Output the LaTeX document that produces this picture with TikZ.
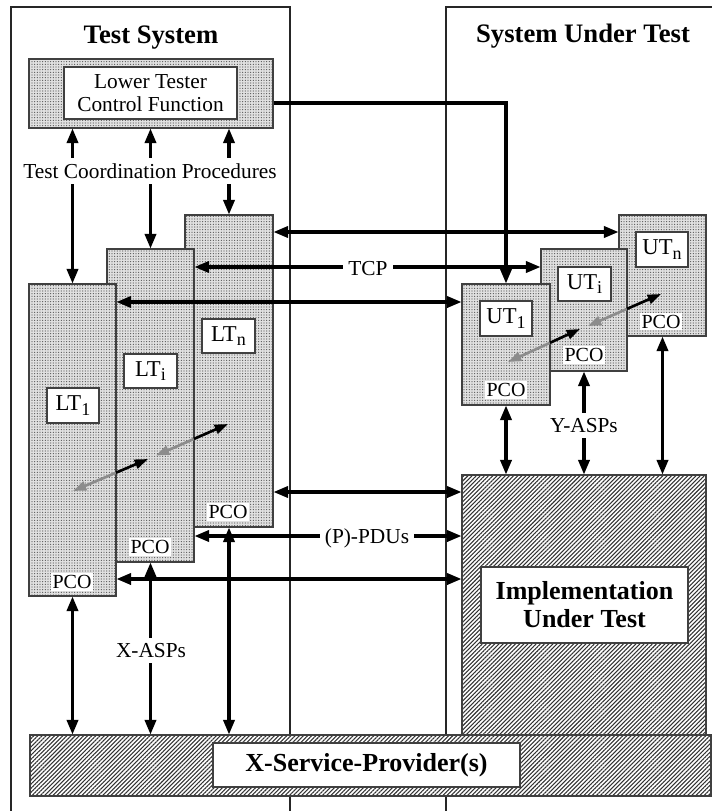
\documentclass[tikz,border=0pt]{standalone}
\usepackage{fontspec}
\setmainfont{Liberation Serif}
\usetikzlibrary{arrows.meta,patterns.meta,fit}
\newcommand\mynorm{\fontsize{16}{18}\selectfont}
\newcommand\mybold{\fontsize{19.5}{22}\selectfont\bfseries}
\newcommand\mytitle{\fontsize{20}{22}\selectfont\bfseries}
\newcommand\mylab{\fontsize{17}{20}\selectfont}
\newcommand\mypco{\fontsize{15}{17}\selectfont}
\newcommand\subtxt[2]{#1\raisebox{-3.5pt}{\fontsize{13.5}{14}\selectfont #2}}
\begin{document}
\begin{tikzpicture}[x=0.75pt,y=-0.75pt,
  frame/.style={draw=black!85,line width=0.8pt},
  dotbox/.style={draw=black!75,line width=0.8pt,inner sep=0pt,preaction={fill=black!12},
     pattern={Dots[distance=2pt,radius=0.45pt]},pattern color=black!65},
  hatchbox/.style={draw=black!75,line width=0.8pt,inner sep=0pt,preaction={fill=white},
     pattern={Lines[angle=45,distance=2.2pt,line width=0.8pt]},pattern color=black!80},
  lblbox/.style={draw=black!75,line width=0.8pt,fill=white,inner sep=0pt},
  pco/.style={fill=white,inner xsep=1pt,inner ysep=1.5pt,font=\mypco},
  wlab/.style={fill=white,font=\mynorm,inner xsep=4pt,inner ysep=4pt},
  arr/.style={line width=2.3pt,{Triangle[length=11pt,width=8.5pt]}-{Triangle[length=11pt,width=8.5pt]}},
  arrone/.style={line width=2.3pt,-{Triangle[length=11pt,width=8.5pt]}},
  garr/.style={line width=2pt,draw=black!45,-{Triangle[length=10pt,width=7pt]}},
  barr/.style={line width=2pt,-{Triangle[length=10pt,width=7pt]}}
]
\useasboundingbox (0,0) rectangle (712,811);
% frames
\draw[frame] (11,811) -- (11,7) -- (290,7) -- (290,811);
\draw[frame] (446,811) -- (446,7) -- (712,7);
\node[font=\mytitle,anchor=base] (tsTitle) at (151,43) {Test System};
\node[font=\mytitle,anchor=base] (sutTitle) at (583,42) {System Under Test};
% lower tester control function
\node[dotbox,fit={(29,59)(273,128)}] (ltcf) {};
\node[lblbox,minimum width=129.75pt,minimum height=39pt,align=center,font=\mynorm] (ltcfL) at (150.5,93) {Lower Tester\\[-1pt]Control Function};
% lower testers
\node[dotbox,fit={(185,215)(273,527)}] (LTn) {};
\node[lblbox,minimum width=39.75pt,minimum height=25.5pt,font=\mylab] (LTnL) at (228.5,336) {\subtxt{LT}{n}};
\node[pco] (pcoLTn) at (228,512) {PCO};
\node[dotbox,fit={(107,249)(194,562)}] (LTi) {};
\node[lblbox,minimum width=39.75pt,minimum height=25.5pt,font=\mylab] (LTiL) at (150.5,371) {\subtxt{LT}{i}};
\node[pco] (pcoLTi) at (150,547) {PCO};
\node[dotbox,fit={(29,284)(116,596)}] (LT1) {};
\node[lblbox,minimum width=39pt,minimum height=26.25pt,font=\mylab] (LT1L) at (73,405.5) {\subtxt{LT}{1}};
\node[pco] (pcoLT1) at (72,582) {PCO};
% upper testers
\node[dotbox,fit={(619,215)(706,336)}] (UTn) {};
\node[lblbox,minimum width=39pt,minimum height=26.25pt,font=\mylab] (UTnL) at (662,249.5) {\subtxt{UT}{n}};
\node[pco] (pcoUTn) at (661,321.5) {PCO};
\node[dotbox,fit={(541,249)(627,371)}] (UTi) {};
\node[lblbox,minimum width=39.75pt,minimum height=25.5pt,font=\mylab] (UTiL) at (584.5,284) {\subtxt{UT}{i}};
\node[pco] (pcoUTi) at (584,355) {PCO};
\node[dotbox,fit={(462,284)(550,405)}] (UT1) {};
\node[lblbox,minimum width=39pt,minimum height=26.25pt,font=\mylab] (UT1L) at (506,318.5) {\subtxt{UT}{1}};
\node[pco] (pcoUT1) at (506,390) {PCO};
% IUT and service provider
\node[hatchbox,fit={(462,475)(706,735)}] (IUT) {};
\node[lblbox,minimum width=155.25pt,minimum height=57pt,align=center,font=\mybold] (IUTL) at (584.5,605) {Implementation\\[-1pt]Under Test};
\node[hatchbox,fit={(30,735)(711,796)}] (XSP) {};
\node[lblbox,minimum width=230.25pt,minimum height=33pt,font=\mybold] (XSPL) at (366.5,765) {X-Service-Provider(s)};
% coordinates for horizontal connectors
\coordinate (yCtl) at (0,103);
\coordinate (yTn) at (0,232);
\coordinate (yTi) at (0,267);
\coordinate (yTo) at (0,302);
\coordinate (yPn) at (0,492);
\coordinate (yPi) at (0,536);
\coordinate (yPo) at (0,579);
% test coordination procedures
\draw[arr] (LT1.north) -- (LT1.north |- ltcf.south);
\draw[arr] (LTi.north) -- (LTi.north |- ltcf.south);
\draw[arr] (LTn.north) -- (LTn.north |- ltcf.south);
\draw[arrone] (ltcf.east |- yCtl) -| (UT1.north);
\draw[arr] (LTn.east |- yTn) -- (UTn.west |- yTn);
\draw[arr] (LTi.east |- yTi) -- (UTi.west |- yTi);
\draw[arr] (LT1.east |- yTo) -- (UT1.west |- yTo);
% PDUs
\draw[arr] (LTn.east |- yPn) -- (IUT.west |- yPn);
\draw[arr] (LTi.east |- yPi) -- (IUT.west |- yPi);
\draw[arr] (LT1.east |- yPo) -- (IUT.west |- yPo);
% ASPs
\draw[arr] (UT1.south) -- (UT1.south |- IUT.north);
\draw[arr] (UTi.south) -- (UTi.south |- IUT.north);
\draw[arr] (UTn.south) -- (UTn.south |- IUT.north);
\draw[arr] (LT1.south) -- (LT1.south |- XSP.north);
\draw[arr] (LTi.south) -- (LTi.south |- XSP.north);
\draw[arr] (LTn.south) -- (LTn.south |- XSP.north);
% diagonal arrows between testers
\coordinate (la1) at (73,491);
\coordinate (lb1) at (116,472.7);
\coordinate (la2) at (148,459);
\coordinate (la3) at (156,455.5);
\coordinate (lb2) at (194,438.9);
\coordinate (la4) at (228,424);
\draw[garr] (lb1) -- (la1);
\draw[barr] (lb1) -- (la2);
\draw[garr] (lb2) -- (la3);
\draw[barr] (lb2) -- (la4);
\coordinate (ua1) at (508,362);
\coordinate (ub1) at (550,342.8);
\coordinate (ua2) at (580,329);
\coordinate (ua3) at (588,326);
\coordinate (ub2) at (627,308.9);
\coordinate (ua4) at (661,294);
\draw[garr] (ub1) -- (ua1);
\draw[barr] (ub1) -- (ua2);
\draw[garr] (ub2) -- (ua3);
\draw[barr] (ub2) -- (ua4);
% labels on connectors
\node[wlab,anchor=base] (tcpLbl) at (150,178) {Test Coordination Procedures};
\node[wlab,anchor=base] (tcpMid) at (368,275) {TCP};
\node[wlab,anchor=base] (pduLbl) at (367,543) {(P)-PDUs};
\node[wlab,anchor=base] (yaspLbl) at (584,432) {Y-ASPs};
\node[wlab,anchor=base] (xaspLbl) at (151,657) {X-ASPs};
\end{tikzpicture}
\end{document}
